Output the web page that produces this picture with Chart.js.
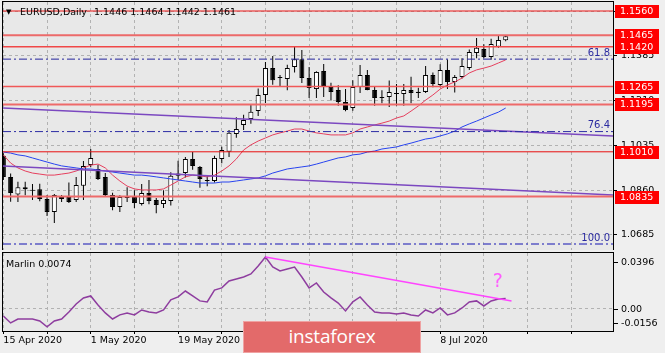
<!DOCTYPE html>
<html><head><meta charset="utf-8">
<script src="https://cdn.jsdelivr.net/npm/chart.js"></script>
<style>
html,body{margin:0;padding:0;background:#ededed;width:665px;height:353px;overflow:hidden;}
#wrap{position:relative;width:665px;height:353px;}
#c1{position:absolute;left:0;top:0;}
#c2{position:absolute;left:0;top:250px;}
#logo{position:absolute;left:243px;top:321px;width:178px;height:32px;background:#e36a6a;border:1px solid #efa2a2;box-sizing:border-box;color:#fff;font-family:'Open Sans',sans-serif;font-size:19px;line-height:29px;text-align:center;letter-spacing:-0.2px;}
</style></head>
<body><div id="wrap">
<canvas id="c1" width="665" height="252"></canvas>
<canvas id="c2" width="665" height="103"></canvas>
<div id="logo">instaforex</div>
</div>
<script>
// ---------- DATA ----------
const dates = ['2020-04-15','2020-04-16','2020-04-17','2020-04-20','2020-04-21','2020-04-22','2020-04-23','2020-04-24','2020-04-27','2020-04-28','2020-04-29','2020-04-30',
'2020-05-01','2020-05-04','2020-05-05','2020-05-06','2020-05-07','2020-05-08','2020-05-11','2020-05-12','2020-05-13','2020-05-14','2020-05-15','2020-05-18','2020-05-19','2020-05-20','2020-05-21','2020-05-22','2020-05-25','2020-05-26','2020-05-27','2020-05-28','2020-05-29',
'2020-06-01','2020-06-02','2020-06-03','2020-06-04','2020-06-05','2020-06-08','2020-06-09','2020-06-10','2020-06-11','2020-06-12','2020-06-15','2020-06-16','2020-06-17','2020-06-18','2020-06-19','2020-06-22','2020-06-23','2020-06-24','2020-06-25','2020-06-26','2020-06-29','2020-06-30',
'2020-07-01','2020-07-02','2020-07-03','2020-07-06','2020-07-07','2020-07-08','2020-07-09','2020-07-10','2020-07-13','2020-07-14','2020-07-15','2020-07-16','2020-07-17','2020-07-20','2020-07-21'];

const open = [1.0995,1.0912,1.0843,1.0872,1.0860,1.0864,1.0826,1.0775,1.0826,1.0833,
1.0822,1.0877,1.0958,1.0943,1.0912,1.0841,1.0794,1.0837,1.0833,1.0806,
1.0849,1.0822,1.0806,1.0818,1.0916,1.0927,1.0982,1.0951,1.0896,1.0896,
1.0982,1.1010,1.1080,1.1115,1.1138,1.1169,1.1232,1.1337,1.1298,1.1294,
1.1341,1.1372,1.1298,1.1255,1.1326,1.1263,1.1251,1.1205,1.1181,1.1263,
1.1310,1.1251,1.1222,1.1224,1.1240,1.1236,1.1251,1.1240,1.1244,1.1310,
1.1271,1.1330,1.1283,1.1302,1.1337,1.1396,1.1412,1.1380,1.1420,1.1446];
const high = [1.1004,1.0925,1.0893,1.0893,1.0884,1.0885,1.0841,1.0845,1.0841,1.0890,
1.0912,1.0974,1.1021,1.0958,1.0927,1.0850,1.0840,1.0872,1.0860,1.0884,
1.0900,1.0830,1.0860,1.0930,1.0975,1.0990,1.1009,1.0955,1.0915,1.0995,
1.1030,1.1095,1.1145,1.1155,1.1195,1.1257,1.1361,1.1384,1.1310,1.1350,
1.1419,1.1408,1.1341,1.1325,1.1353,1.1280,1.1270,1.1255,1.1290,1.1349,
1.1330,1.1263,1.1250,1.1289,1.1275,1.1275,1.1303,1.1260,1.1345,1.1320,
1.1352,1.1371,1.1310,1.1375,1.1410,1.1455,1.1430,1.1452,1.1466,1.1464];
const low = [1.0900,1.0815,1.0814,1.0840,1.0822,1.0817,1.0759,1.0732,1.0814,1.0810,
1.0814,1.0822,1.0950,1.0900,1.0833,1.0782,1.0775,1.0814,1.0790,1.0800,
1.0805,1.0770,1.0790,1.0800,1.0900,1.0910,1.0940,1.0870,1.0875,1.0890,
1.0965,1.0990,1.1065,1.1095,1.1120,1.1150,1.1201,1.1272,1.1265,1.1250,
1.1320,1.1279,1.1220,1.1220,1.1224,1.1210,1.1190,1.1168,1.1170,1.1240,
1.1250,1.1190,1.1200,1.1185,1.1190,1.1190,1.1200,1.1220,1.1240,1.1262,
1.1262,1.1255,1.1242,1.1296,1.1330,1.1375,1.1375,1.1370,1.1416,1.1442];
const close = [1.0912,1.0849,1.0872,1.0864,1.0858,1.0826,1.0775,1.0841,1.0833,1.0814,
1.0880,1.0955,1.0986,1.0904,1.0841,1.0794,1.0833,1.0830,1.0810,1.0849,
1.0818,1.0802,1.0822,1.0916,1.0925,1.0982,1.0955,1.0904,1.0900,1.0986,
1.1017,1.1084,1.1099,1.1134,1.1166,1.1232,1.1337,1.1290,1.1300,1.1337,
1.1372,1.1298,1.1259,1.1322,1.1267,1.1244,1.1205,1.1173,1.1263,1.1310,
1.1251,1.1220,1.1220,1.1244,1.1236,1.1251,1.1240,1.1245,1.1310,1.1275,
1.1330,1.1283,1.1302,1.1345,1.1400,1.1416,1.1380,1.1431,1.1447,1.1461];

// moving averages
const maRed = [1.0998,1.0966,1.0947,1.0935,1.0927,1.0923,1.0919,1.0919,1.0923,1.0927,
1.0935,1.0947,1.0958,1.0962,1.0947,1.0919,1.0896,1.0876,1.0865,1.0861,
1.0861,1.0861,1.0865,1.0880,1.0896,1.0912,1.0919,1.0916,1.0912,1.0919,
1.0935,1.0955,1.0982,1.1017,1.1037,1.1052,1.1064,1.1076,1.1084,1.1091,
1.1099,1.1099,1.1091,1.1084,1.1080,1.1076,1.1076,1.1076,1.1084,1.1099,
1.1107,1.1115,1.1122,1.1130,1.1142,1.1150,1.1169,1.1189,1.1212,1.1232,
1.1255,1.1271,1.1283,1.1298,1.1318,1.1330,1.1337,1.1345,1.1357,1.1369];
const maBlue = [1.1009,1.1005,1.0998,1.0994,1.0986,1.0978,1.0970,1.0962,1.0955,1.0951,
1.0947,1.0943,1.0943,1.0939,1.0935,1.0931,1.0927,1.0923,1.0919,1.0919,
1.0916,1.0912,1.0908,1.0904,1.0900,1.0896,1.0892,1.0888,1.0888,1.0888,
1.0892,1.0892,1.0896,1.0900,1.0904,1.0908,1.0916,1.0927,1.0935,1.0943,
1.0947,1.0951,1.0955,1.0962,1.0970,1.0978,1.0986,1.0990,1.0998,1.1001,
1.1009,1.1013,1.1021,1.1025,1.1029,1.1037,1.1044,1.1052,1.1060,1.1064,
1.1072,1.1080,1.1091,1.1107,1.1119,1.1130,1.1142,1.1154,1.1165,1.1181];

// Marlin oscillator
const marlin = [-0.0050,-0.0099,-0.0071,-0.0071,-0.0071,-0.0085,-0.0127,-0.0085,-0.0071,-0.0021,
0.0035,0.0078,0.0092,0.0028,-0.0028,-0.0071,-0.0042,-0.0028,-0.0042,-0.0007,
-0.0021,-0.0028,-0.0007,0.0064,0.0085,0.0127,0.0092,0.0057,0.0050,0.0134,
0.0149,0.0198,0.0212,0.0226,0.0248,0.0304,0.0368,0.0297,0.0269,0.0283,
0.0297,0.0226,0.0149,0.0184,0.0120,0.0078,0.0042,-0.0014,0.0050,0.0085,
0.0028,-0.0021,-0.0028,-0.0028,-0.0035,-0.0028,-0.0042,-0.0050,-0.0007,-0.0028,
0.0007,-0.0042,-0.0028,0.0007,0.0050,0.0057,0.0021,0.0057,0.0071,0.0074];
const marlinTrend = [{i:36, v:0.0368}, {i:69.8, v:0.0057}];
const questionMark = {i:67.9, v:0.0191, text:'?'};

// horizontal levels, fibonacci levels, trend lines
const levels = [1.1560, 1.1465, 1.1420, 1.1265, 1.1195, 1.1010, 1.0835];
const fibRatios = ['61.8', '76.4', '100.0'];
const fibPrices = [1.1372, 1.1089, 1.0650];
const trendUpper = [1.1181, 1.1072];
const trendLower = [1.0955, 1.0841];

// ticks
const priceTicks = [1.1560, 1.1385, 1.1210, 1.1035, 1.0860, 1.0685];
const marlinTicks = [0.0396, 0.00, -0.0156];
const marlinTickText = ['0.0396', '0.00', '-0.0156'];
const dateTickIdx = [0, 12, 24, 36, 48, 60];
const gridIdx = [0,6,12,18,24,30,36,42,48,54,60,66,72,78];
const months = ['Jan','Feb','Mar','Apr','May','Jun','Jul','Aug','Sep','Oct','Nov','Dec'];
const symbolTitle = 'EURUSD,Daily';
const indicatorName = 'Marlin';

// ---------- VIEW ----------
const X_MIN = -0.05, X_MAX = 83.74;
const FONT = 'DejaVu Sans';
const levelStyle = [
  {c:'#f01818', w:1}, {c:'#ec6a6a', w:2}, {c:'#f04848', w:1.5}, {c:'#f05858', w:1.5},
  {c:'#ee6a6a', w:2}, {c:'#e81010', w:1}, {c:'#ee6a6a', w:2}];
const fibStyle = [{c:'#24249c', w:1}, {c:'#2c2ca4', w:1}, {c:'#5a5ac4', w:1.5}];

function fmtDate(s){ const [y,m,d] = s.split('-'); return (+d) + ' ' + months[+m-1] + ' ' + y; }

const ds1 = [];
levels.forEach((v,k) => ds1.push({type:'line', data:[{x:X_MIN,y:v},{x:X_MAX,y:v}],
  borderColor:levelStyle[k].c, borderWidth:levelStyle[k].w, pointRadius:0, order:1}));
fibPrices.forEach((v,k) => ds1.push({type:'line', data:[{x:X_MIN,y:v},{x:X_MAX,y:v}],
  borderColor:fibStyle[k].c, borderWidth:fibStyle[k].w, borderDash:[8,3,2,3], pointRadius:0, order:0}));
[trendUpper, trendLower].forEach(t => ds1.push({type:'line', data:[{x:X_MIN,y:t[0]},{x:X_MAX,y:t[1]}],
  borderColor:'#7b48c0', borderWidth:1.5, pointRadius:0, order:2}));
ds1.push({type:'line', data:maBlue.map((v,i)=>({x:i,y:v})), borderColor:'#2844f0', borderWidth:1, pointRadius:0, order:3});
ds1.push({type:'line', data:maRed.map((v,i)=>({x:i,y:v})), borderColor:'#e6405e', borderWidth:1, pointRadius:0, order:3});
ds1.push({type:'bar', data:dates.map((d,i)=>({x:i,y:[open[i],close[i]]})),
  backgroundColor:dates.map((d,i)=> close[i]>=open[i] ? '#ffffff' : '#000000'),
  borderColor:'#000', borderWidth:1, borderSkipped:false, barThickness:5, grouped:false, minBarLength:1, inflateAmount:0, order:5});
ds1.push({type:'bar', data:dates.map((d,i)=>({x:i,y:[low[i],high[i]]})),
  backgroundColor:'#000', borderWidth:0, barThickness:1, grouped:false, inflateAmount:0, order:6});

const bgPlugin = {
  id:'bg',
  beforeDraw(chart){
    const {ctx, chartArea:a} = chart;
    ctx.save(); ctx.fillStyle = '#efefef'; ctx.fillRect(0,0,chart.width,chart.height);
    ctx.fillStyle = '#e8e8e8'; ctx.fillRect(a.left,a.top,a.right-a.left,a.bottom-a.top); ctx.restore();
  }
};
function drawFrame(chart){
  const {ctx, chartArea:a} = chart;
  ctx.save(); ctx.strokeStyle='#000'; ctx.lineWidth=1;
  ctx.strokeRect(a.left-0.5, a.top-0.5, a.right-a.left+1, a.bottom-a.top+1); ctx.restore();
}

const mainPlugin = {
  id:'mainDeco',
  afterDraw(chart){
    const {ctx, chartArea:a, scales:{y}} = chart;
    drawFrame(chart);
    ctx.save();
    ctx.font = '9.5px "' + FONT + '"'; ctx.textBaseline = 'middle';
    levels.forEach(v => {
      const py = Math.round(y.getPixelForValue(v));
      ctx.fillStyle = '#ff0000'; ctx.fillRect(a.right+2, py-6, 44, 13);
      ctx.fillStyle = '#ffffff'; ctx.textAlign='left'; ctx.fillText(v.toFixed(4), a.right+7, py+0.5);
    });
    ctx.font = '10px "' + FONT + '"'; ctx.textAlign = 'right'; ctx.fillStyle = '#2a2aa0';
    fibPrices.forEach((v,k) => { const py = y.getPixelForValue(v); ctx.fillText(fibRatios[k], a.right-3, py-6); });
    ctx.fillStyle = '#000'; ctx.textAlign = 'left';
    ctx.font = '7px "' + FONT + '"'; ctx.fillText('\u25BC', 6, 12);
    ctx.font = '9.5px "' + FONT + '"';
    ctx.fillText(symbolTitle, 20, 12.5);
    const n = close.length - 1;
    ctx.fillText([open[n],high[n],low[n],close[n]].map(v=>v.toFixed(4)).join(' '), 94, 12.5);
    ctx.restore();
  }
};

new Chart(document.getElementById('c1'), {
  type:'bar',
  data:{datasets:ds1},
  options:{
    responsive:false, animation:false, devicePixelRatio:1,
    layout:{padding:{top:2,left:3,right:0,bottom:2}},
    plugins:{legend:{display:false}, tooltip:{enabled:false}},
    scales:{
      x:{type:'linear', min:X_MIN, max:X_MAX, bounds:'data', offset:false,
        afterBuildTicks:s=>{ s.ticks = gridIdx.map(v=>({value:v})); },
        afterFit:s=>{ s.height=0; s.paddingLeft=0; s.paddingRight=0; },
        ticks:{display:false},
        grid:{color:'#b2b2b2', drawTicks:false, offset:false},
        border:{display:false, dash:[3,3]}},
      y:{type:'linear', position:'right', min:1.06264, max:1.15952, bounds:'data',
        afterBuildTicks:s=>{ s.ticks = priceTicks.map(v=>({value:v})); },
        afterFit:s=>{ s.width=52; s.paddingTop=0; s.paddingBottom=0; },
        ticks:{callback:v=>Number(v).toFixed(4), color:'#000', font:{family:FONT,size:9.5}, padding:4},
        grid:{color:'#b2b2b2', tickColor:'#000', tickLength:4},
        border:{display:false, dash:[3,3]}}
    }
  },
  plugins:[bgPlugin, mainPlugin]
});

// ---------- Marlin panel ----------
const marlinPlugin = {
  id:'marlinDeco',
  afterDraw(chart){
    const {ctx, chartArea:a, scales:{x, y}} = chart;
    drawFrame(chart);
    ctx.save();
    ctx.font = '9.5px "' + FONT + '"'; ctx.textBaseline='middle'; ctx.fillStyle='#000'; ctx.strokeStyle='#000';
    marlinTicks.forEach((v,k) => {
      let py = y.getPixelForValue(v);
      py = Math.min(Math.max(py, a.top+9), a.bottom-8);
      ctx.beginPath(); ctx.moveTo(a.right+1, Math.round(py)+0.5); ctx.lineTo(a.right+5, Math.round(py)+0.5); ctx.stroke();
      ctx.textAlign='left'; ctx.fillText(marlinTickText[k], a.right+8, py+0.5);
    });
    ctx.fillText(indicatorName + ' ' + marlin[marlin.length-1].toFixed(4), a.left+3, a.top+11.5);
    ctx.fillStyle = '#ff5cff'; ctx.font = '19px "' + FONT + '"'; ctx.textAlign='center';
    ctx.fillText(questionMark.text, x.getPixelForValue(questionMark.i), y.getPixelForValue(questionMark.v));
    ctx.restore();
  }
};

new Chart(document.getElementById('c2'), {
  type:'line',
  data:{datasets:[
    {data:marlinTrend.map(p=>({x:p.i,y:p.v})), borderColor:'#ff44ff', borderWidth:1.5, pointRadius:0, order:0},
    {data:marlin.map((v,i)=>({x:i,y:v})), borderColor:'#8e3d9f', borderWidth:1.5, pointRadius:0, order:1}
  ]},
  options:{
    responsive:false, animation:false, devicePixelRatio:1,
    layout:{padding:{top:3,left:3,right:0,bottom:0}},
    plugins:{legend:{display:false}, tooltip:{enabled:false}},
    scales:{
      x:{type:'linear', min:X_MIN, max:X_MAX, bounds:'data', offset:false,
        afterBuildTicks:s=>{ s.ticks = gridIdx.map(v=>({value:v})); },
        afterFit:s=>{ s.height=22; s.paddingLeft=0; s.paddingRight=0; },
        ticks:{autoSkip:false, maxRotation:0, align:'start', padding:1, color:'#000', font:{family:FONT,size:9.5},
          callback:v=>{ const k = dateTickIdx.indexOf(v); return k>=0 ? fmtDate(dates[dateTickIdx[k]]) : ''; }},
        grid:{color:'#b2b2b2', tickColor:'#000', tickLength:3, offset:false},
        border:{display:false, dash:[3,3]}},
      y:{type:'linear', position:'right', min:-0.0156, max:0.0396, bounds:'data',
        afterBuildTicks:s=>{ s.ticks = [{value:0}]; },
        afterFit:s=>{ s.width=52; s.paddingTop=0; s.paddingBottom=0; },
        ticks:{display:false},
        grid:{color:'#b2b2b2', drawTicks:false},
        border:{display:false, dash:[3,3]}}
    }
  },
  plugins:[bgPlugin, marlinPlugin]
});
</script>
</body></html>
